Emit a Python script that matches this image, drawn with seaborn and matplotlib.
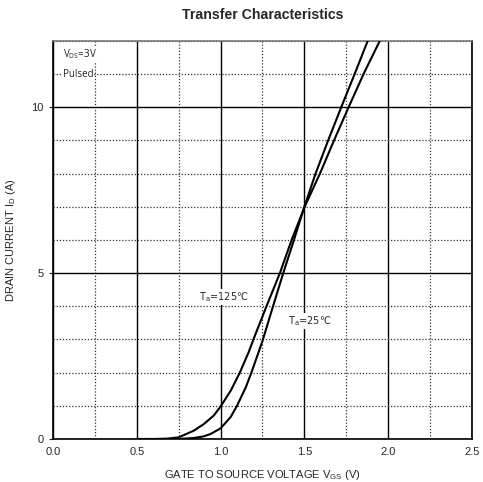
import matplotlib
matplotlib.use("Agg")
import matplotlib.pyplot as plt
from matplotlib.ticker import MultipleLocator, FormatStrFormatter
import seaborn as sns
import pandas as pd

# Transfer characteristics
vgs_25 = [0.5, 0.6, 0.7, 0.78, 0.84, 0.9, 0.94, 1.0, 1.06, 1.096, 1.15, 1.184, 1.25, 1.31,
          1.374, 1.438, 1.50, 1.567, 1.642, 1.72, 1.80, 1.878, 1.92]
id_25 = [0.0, 0.0, 0.0, 0.01, 0.03, 0.08, 0.15, 0.32, 0.66, 0.98, 1.55, 2.0, 2.95, 3.95,
         5.0, 6.0, 7.0, 8.0, 9.0, 10.0, 11.0, 12.0, 12.55]

vgs_125 = [0.5, 0.6, 0.68, 0.75, 0.84, 0.9, 0.96, 1.0, 1.06, 1.114, 1.168, 1.20, 1.274,
           1.354, 1.424, 1.502, 1.593, 1.677, 1.764, 1.853, 1.95, 2.0]
id_125 = [0.0, 0.0, 0.01, 0.05, 0.25, 0.45, 0.71, 0.98, 1.45, 1.99, 2.62, 3.05, 4.0,
          5.0, 6.0, 7.0, 8.0, 9.0, 10.0, 11.0, 12.0, 12.5]

df = pd.concat([
    pd.DataFrame({"vgs": vgs_25, "id": id_25, "temp": "25"}),
    pd.DataFrame({"vgs": vgs_125, "id": id_125, "temp": "125"}),
])

sns.set_style("white")
plt.rcParams["font.family"] = ["Liberation Sans", "DejaVu Sans"]

fig = plt.figure(figsize=(4.83, 4.82), dpi=100)
ax = fig.add_axes([0.1097, 0.0892, 0.8673, 0.8258])

sns.lineplot(data=df, x="vgs", y="id", units="temp", estimator=None,
             color="black", lw=1.5, sort=False, ax=ax, zorder=3)

ax.set_xlim(0, 2.5)
ax.set_ylim(0, 12)
ax.xaxis.set_major_locator(MultipleLocator(0.5))
ax.xaxis.set_minor_locator(MultipleLocator(0.25))
ax.xaxis.set_major_formatter(FormatStrFormatter("%.1f"))
ax.yaxis.set_major_locator(MultipleLocator(5))
ax.yaxis.set_minor_locator(MultipleLocator(1))

ax.grid(which="major", color="black", lw=1.0, ls="-")
ax.grid(which="minor", color="#333333", lw=0.9, ls=(0, (1, 1.5)))
ax.set_axisbelow(True)
for s in ax.spines.values():
    s.set_color("black")
    s.set_linewidth(1.2)
ax.spines["top"].set_color("#777777")

ax.tick_params(axis="x", which="both", length=0, labelsize=8, pad=6)
ax.tick_params(axis="y", which="major", length=3, labelsize=8, direction="out", left=True)
ax.tick_params(axis="y", which="minor", length=0)

ax.set_xlabel("GATE TO SOURCE VOLTAGE V$_{\\mathregular{GS}}$ (V)", fontsize=8, labelpad=8)
ax.set_ylabel("DRAIN CURRENT I$_{\\mathregular{D}}$ (A)", fontsize=8, labelpad=10)
ax.set_title("Transfer Characteristics", fontsize=10.2, fontweight="bold", pad=16)

box = dict(facecolor="white", edgecolor="none", pad=0.5)
note = ["Open Sans", "DejaVu Sans"]
ax.text(0.06, 11.6, "V$_{\\mathregular{DS}}$=3V", fontsize=7, family=note, va="center", bbox=box, zorder=4)
ax.text(0.06, 11.0, "Pulsed", fontsize=7, family=note, va="center", bbox=box, zorder=4)
ax.text(0.87, 4.28, "T$_{\\mathregular{a}}$=125℃", fontsize=7, family="DejaVu Sans", va="center", bbox=box, zorder=4)
ax.text(1.40, 3.56, "T$_{\\mathregular{a}}$=25℃", fontsize=7, family="DejaVu Sans", va="center", bbox=box, zorder=4)

fig.savefig("out.png", dpi=100)
